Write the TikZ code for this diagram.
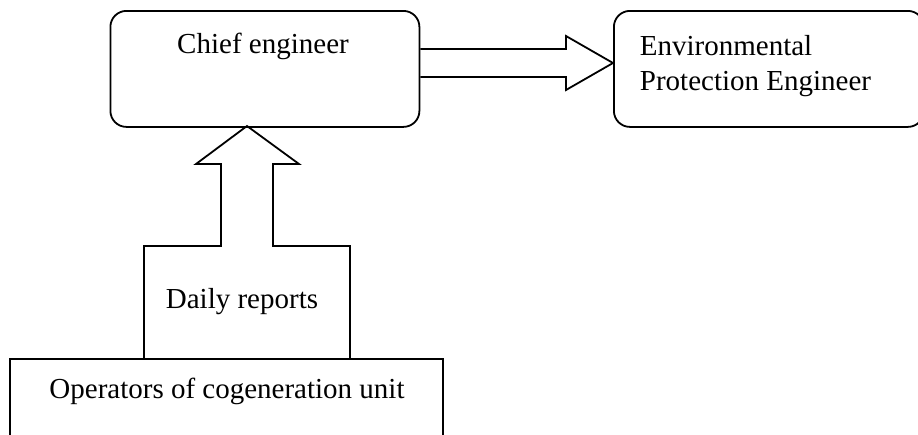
\documentclass[tikz,border=0pt]{standalone}
\usepackage{fontspec}
\setmainfont{Liberation Serif}
\usetikzlibrary{calc}
\begin{document}
\begin{tikzpicture}[x=1pt,y=-1pt,line width=1.8pt,line join=miter,
  font=\fontsize{29}{35}\selectfont,
  roundbox/.style={draw,rounded corners=16pt,inner sep=0pt,anchor=north west},
  txt/.style={inner sep=0pt}]
\useasboundingbox (0,0) rectangle (918,434);
% boxes
\node[roundbox,minimum width=309pt,minimum height=116pt] (chief) at (109.5,10) {};
\node[roundbox,minimum width=310pt,minimum height=116pt] (env) at (613,10) {};
% texts
\node[txt,anchor=base] (chiefl) at (263,53) {Chief engineer};
\node[txt,anchor=base west] (envl1) at (639,55) {Environmental};
\node[txt,anchor=base west] (envl2) at (639,90) {Protection Engineer};
\node[txt,anchor=base] (daily) at (242,308) {Daily reports};
\node[txt,anchor=base] (oper) at (227,398) {Operators of cogeneration unit};
% right block arrow from chief to env
\coordinate (rtip) at (613,63);
\draw ($(chief.north east)+(0,39)$) -- (566,49) -- (566,36) -- (rtip)
      -- (566,90) -- (566,77) -- ($(chief.north east)+(0,67)$);
% up block arrow with daily-reports box
\coordinate (utip) at (247,126);
\draw (utip) -- (299,164) -- (273,164) -- (273,246) -- (350,246) -- (350,359)
      -- (144,359) -- (144,246) -- (221,246) -- (221,164) -- (196,164) -- cycle;
% operators box (open at bottom)
\draw (10,440) -- (10,359) -- (443,359) -- (443,440);
\end{tikzpicture}
\end{document}
